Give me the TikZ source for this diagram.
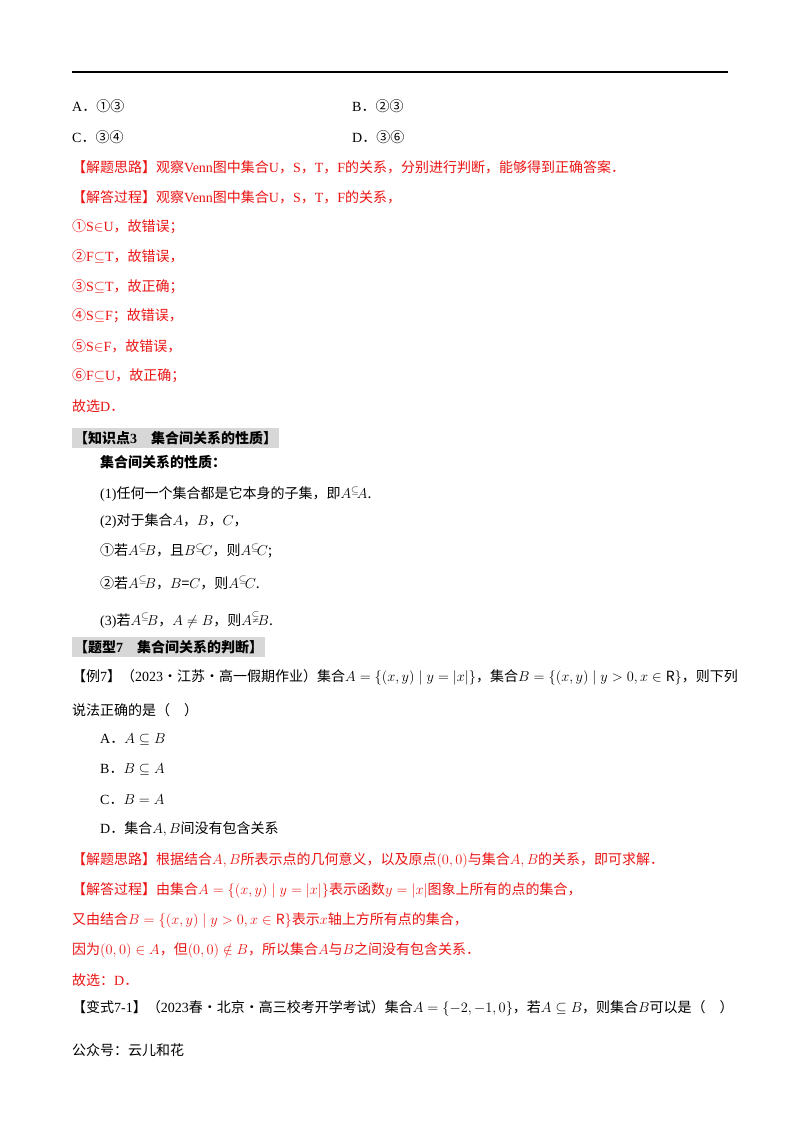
\documentclass[tikz,border=0pt]{standalone}
\usepackage{amsmath,amssymb}
\usepackage{fontspec}
\setmainfont{Noto Sans CJK SC}
\newfontfamily\lat{Liberation Serif}
\definecolor{ans}{RGB}{235,20,20}
\definecolor{hdr}{RGB}{215,215,215}
\begin{document}
\begin{tikzpicture}[x=1pt,y=-1pt,
  t/.style={anchor=west,inner sep=0pt,font=\fontsize{14}{16}\selectfont},
  r/.style={t,text=ans},
  h/.style={t,fill=hdr,inner xsep=2pt,inner ysep=3pt,font=\fontsize{14}{16}\selectfont\bfseries}]
\useasboundingbox (0,0) rectangle (800,1132);
\coordinate (l) at (72,72); \coordinate (rr) at (728,72);
\draw[line width=1.4pt] (l) -- (rr);
\node[t] (a1) at (72,106) {{\lat A}．①③};
\node[t] (b1) at (352,106) {{\lat B}．②③};
\node[t] (c1) at (72,137) {{\lat C}．③④};
\node[t] (d1) at (352,137) {{\lat D}．③⑥};
\node[r] (s1) at (72,167) {【解题思路】观察{\lat Venn}图中集合{\lat U}，{\lat S}，{\lat T}，{\lat F}的关系，分别进行判断，能够得到正确答案．};
\node[r] (s2) at (72,197) {【解答过程】观察{\lat Venn}图中集合{\lat U}，{\lat S}，{\lat T}，{\lat F}的关系，};
\node[r] (s3) at (72,227) {①{\lat S}$\in${\lat U}，故错误；};
\node[r] (s4) at (72,257) {②{\lat F}$\subseteq${\lat T}，故错误，};
\node[r] (s5) at (72,287) {③{\lat S}$\subseteq${\lat T}，故正确；};
\node[r] (s6) at (72,316) {④{\lat S}$\subseteq${\lat F}；故错误，};
\node[r] (s7) at (72,346) {⑤{\lat S}$\in${\lat F}，故错误，};
\node[r] (s8) at (72,376) {⑥{\lat F}$\subseteq${\lat U}，故正确；};
\node[r] (s9) at (72,406) {故选{\lat D}．};
\node[h] (k3) at (72,438) {【知识点{\lat 3}\quad 集合间关系的性质】};
\node[t,font=\fontsize{14}{16}\selectfont\bfseries] (k0) at (100,462) {集合间关系的性质：};
\node[t] (k1) at (100,494) {{\lat (1)}任何一个集合都是它本身的子集，即$A^{\subseteq}\!A$.};
\node[t] (k2) at (100,521) {{\lat (2)}对于集合$A$，$B$，$C$，};
\node[t] (k4) at (100,551) {①若$A^{\subseteq}\!B$，且$B^{\subseteq}\!C$，则$A^{\subseteq}\!C$;};
\node[t] (k5) at (100,583) {②若$A^{\subseteq}\!B$，$B$=$C$，则$A^{\subseteq}\!C$.};
\node[t] (k6) at (100,620) {{\lat (3)}若$A^{\subseteq}\!B$，$A\neq B$，则$A^{\subsetneqq}\!B$.};
\node[h] (q7) at (72,647) {【题型{\lat 7}\quad 集合间关系的判断】};
\node[t] (e1) at (72,677) {【例{\lat 7}】（{\lat 2023}·江苏·高一假期作业）集合$A=\{(x,y)\mid y=|x|\}$，集合$B=\{(x,y)\mid y>0,x\in\mathrm{R}\}$，则下列};
\node[t] (e2) at (72,710) {说法正确的是（\quad ）};
\node[t] (oa) at (100,740) {{\lat A}．$A\subseteq B$};
\node[t] (ob) at (100,770) {{\lat B}．$B\subseteq A$};
\node[t] (oc) at (100,800) {{\lat C}．$B=A$};
\node[t] (od) at (100,829) {{\lat D}．集合$A,B$间没有包含关系};
\node[r] (p1) at (72,860) {【解题思路】根据结合$A,B$所表示点的几何意义，以及原点$(0,0)$与集合$A,B$的关系，即可求解．};
\node[r] (p2) at (72,890) {【解答过程】由集合$A=\{(x,y)\mid y=|x|\}$表示函数$y=|x|$图象上所有的点的集合，};
\node[r] (p3) at (72,920) {又由结合$B=\{(x,y)\mid y>0,x\in\mathrm{R}\}$表示$x$轴上方所有点的集合，};
\node[r] (p4) at (72,950) {因为$(0,0)\in A$，但$(0,0)\notin B$，所以集合$A$与$B$之间没有包含关系．};
\node[r] (p5) at (72,980) {故选：{\lat D}．};
\node[t] (v1) at (72,1008) {【变式{\lat 7-1}】（{\lat 2023}春·北京·高三校考开学考试）集合$A=\{-2,-1,0\}$，若$A\subseteq B$，则集合$B$可以是（\quad ）};
\node[t] (g1) at (72,1050) {公众号：云儿和花};
\end{tikzpicture}
\end{document}
